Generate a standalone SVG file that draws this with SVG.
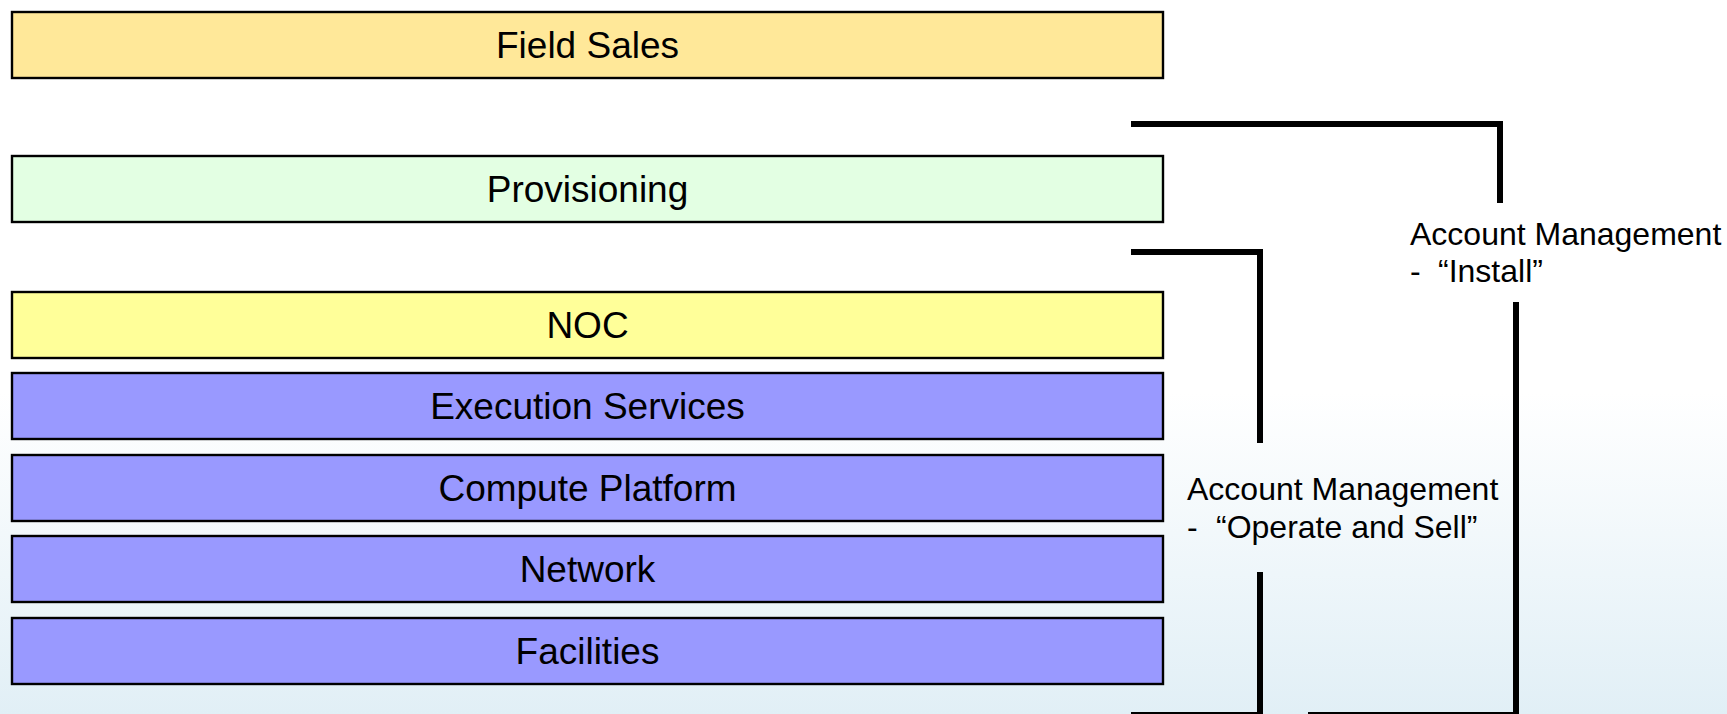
<svg xmlns="http://www.w3.org/2000/svg" width="1727" height="714" viewBox="0 0 1727 714">
<defs>
<linearGradient id="bg" x1="0" y1="0" x2="0" y2="1">
<stop offset="0" stop-color="#FFFFFF"/>
<stop offset="0.55" stop-color="#FFFFFF"/>
<stop offset="1" stop-color="#E1EFF6"/>
</linearGradient>
<style>
.box{stroke:#000;stroke-width:2.4}
.lbl{font-family:"Liberation Sans",Arial,sans-serif;font-size:37px;fill:#000;text-anchor:middle}
.ann{font-family:"Liberation Sans",Arial,sans-serif;font-size:32px;fill:#000}
.con{fill:none;stroke:#000;stroke-width:6;stroke-linejoin:miter;stroke-linecap:butt}
</style>
</defs>
<rect x="0" y="0" width="1727" height="714" fill="url(#bg)"/>
<g id="field-sales"><rect class="box" x="12" y="12" width="1151" height="66" fill="#FFE899"/><text class="lbl" x="587.5" y="58">Field Sales</text></g>
<g id="provisioning"><rect class="box" x="12" y="156" width="1151" height="66" fill="#E3FFE3"/><text class="lbl" x="587.5" y="202">Provisioning</text></g>
<g id="noc"><rect class="box" x="12" y="292" width="1151" height="66" fill="#FFFF99"/><text class="lbl" x="587.5" y="338">NOC</text></g>
<g id="execution-services"><rect class="box" x="12" y="373" width="1151" height="66" fill="#9999FF"/><text class="lbl" x="587.5" y="419">Execution Services</text></g>
<g id="compute-platform"><rect class="box" x="12" y="455" width="1151" height="66" fill="#9999FF"/><text class="lbl" x="587.5" y="501">Compute Platform</text></g>
<g id="network"><rect class="box" x="12" y="536" width="1151" height="66" fill="#9999FF"/><text class="lbl" x="587.5" y="582">Network</text></g>
<g id="facilities"><rect class="box" x="12" y="618" width="1151" height="66" fill="#9999FF"/><text class="lbl" x="587.5" y="664">Facilities</text></g>
<g id="connectors">
<path class="con" d="M1131,124 H1500 V203"/>
<path class="con" d="M1516,302 V715 H1308"/>
<path class="con" d="M1131,252 H1260 V443"/>
<path class="con" d="M1260,572 V715 H1131"/>
</g>
<g id="am-install"><text class="ann" x="1410" y="245">Account Management</text><text class="ann" y="282"><tspan x="1410">-</tspan><tspan x="1438">“Install”</tspan></text></g>
<g id="am-operate"><text class="ann" x="1187" y="500">Account Management</text><text class="ann" y="538"><tspan x="1187">-</tspan><tspan x="1216">“Operate and Sell”</tspan></text></g>
</svg>
